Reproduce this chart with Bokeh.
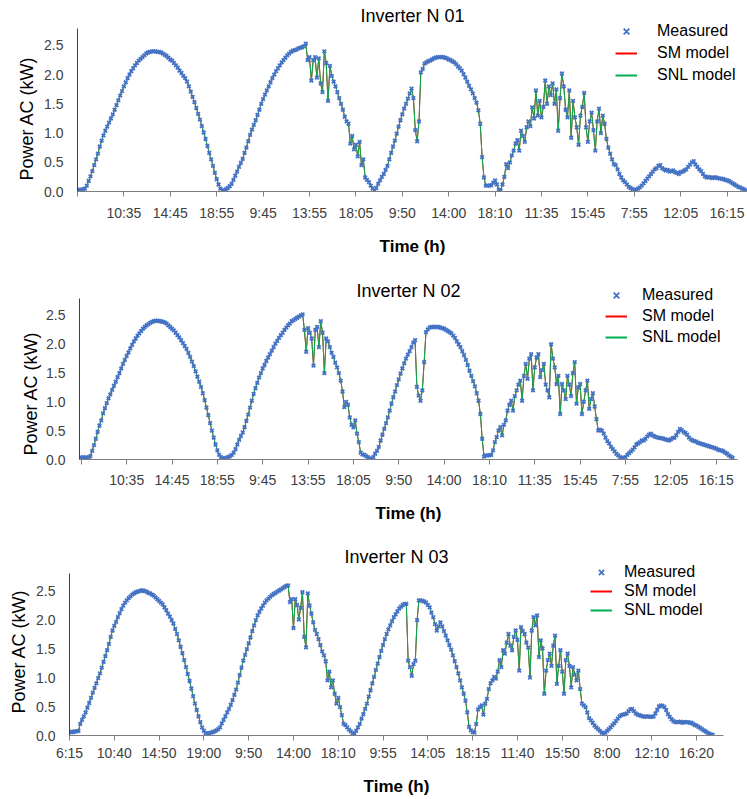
from bokeh.plotting import figure
from bokeh.models import (Range1d, FixedTicker, PrintfTickFormatter, Legend, LegendItem,
                          Label, Title)
from bokeh.embed import file_html
from bokeh.resources import INLINE

# one value for every 2nd 5-minute record (index = record number)
SAMPLE_STEP = 2

measured_n01 = [
    0.03, 0.02, 0.03, 0.04, 0.05, 0.10, 0.18, 0.26, 0.35, 0.45, 0.55, 0.65, 0.77, 0.87, 0.96, 1.04,
    1.11, 1.18, 1.25, 1.32, 1.40, 1.48, 1.56, 1.64, 1.72, 1.80, 1.87, 1.94, 2.00, 2.06, 2.11, 2.16,
    2.20, 2.24, 2.27, 2.30, 2.33, 2.36, 2.38, 2.39, 2.40, 2.40, 2.40, 2.39, 2.39, 2.38, 2.36, 2.34,
    2.32, 2.29, 2.26, 2.24, 2.20, 2.16, 2.12, 2.07, 2.03, 1.98, 1.94, 1.88, 1.80, 1.71, 1.62, 1.53,
    1.43, 1.33, 1.23, 1.12, 1.01, 0.90, 0.78, 0.66, 0.55, 0.44, 0.32, 0.21, 0.12, 0.05, 0.02,
    0.02, 0.04, 0.06, 0.09, 0.13, 0.20, 0.27, 0.34, 0.42, 0.49, 0.56, 0.66, 0.75, 0.86, 0.97, 1.06,
    1.14, 1.22, 1.31, 1.40, 1.50, 1.58, 1.66, 1.73, 1.80, 1.87, 1.94, 2.00, 2.06, 2.11, 2.16, 2.21,
    2.25, 2.29, 2.33, 2.36, 2.39, 2.41, 2.42, 2.43, 2.45, 2.46, 2.47, 2.49, 2.53, 2.25, 2.30, 1.90,
    2.25, 2.30, 1.95, 2.28, 1.85, 1.70, 2.40, 2.20, 1.55, 2.15, 1.98, 1.88, 1.80, 1.70, 1.60, 1.50,
    1.40, 1.28, 1.20, 1.16, 0.82, 0.95, 0.72, 0.80, 0.60, 0.85, 0.45, 0.55, 0.24, 0.20, 0.16, 0.10,
    0.05, 0.01,
    0.06, 0.13, 0.19, 0.25, 0.30, 0.37, 0.44, 0.55, 0.66, 0.77, 0.87, 0.99, 1.11, 1.22, 1.32, 1.42,
    1.50, 1.59, 1.68, 1.76, 1.60, 1.05, 0.86, 1.20, 2.04, 2.10, 2.19, 2.21, 2.23, 2.24, 2.26, 2.28,
    2.29, 2.30, 2.30, 2.30, 2.30, 2.29, 2.28, 2.26, 2.25, 2.23, 2.21, 2.18, 2.14, 2.11, 2.07, 2.01,
    1.95, 1.88, 1.81, 1.75, 1.68, 1.60, 1.52, 1.39, 1.16, 0.59, 0.24, 0.10, 0.10, 0.10, 0.11, 0.15,
    0.19, 0.12, 0.03, 0.02,
    0.12, 0.25, 0.47, 0.40, 0.50, 0.62, 0.70, 0.82, 0.88, 0.70, 1.04, 0.95, 0.85, 1.10, 1.20, 1.12,
    1.44, 1.25, 1.73, 1.30, 1.55, 1.27, 1.45, 1.90, 1.50, 1.80, 1.65, 1.85, 1.50, 1.75, 1.04, 1.60,
    2.02, 1.80, 1.40, 1.27, 1.73, 0.92, 1.55, 1.27, 1.10, 0.80, 1.30, 1.45, 1.69, 1.10, 0.85, 1.20,
    1.35, 1.05, 0.70, 1.20, 1.42, 1.00, 1.30, 1.16, 0.90, 0.75, 0.65, 0.55, 0.47, 0.45, 0.38, 0.30,
    0.24, 0.19, 0.16, 0.12, 0.08, 0.06, 0.04, 0.02,
    0.03, 0.05, 0.07, 0.10, 0.14, 0.18, 0.22, 0.26, 0.30, 0.34, 0.38, 0.40, 0.44, 0.45, 0.40, 0.38,
    0.36, 0.37, 0.34, 0.35, 0.36, 0.33, 0.32, 0.30, 0.33, 0.34, 0.36, 0.38, 0.42, 0.46, 0.50, 0.52,
    0.46, 0.42, 0.38, 0.35, 0.30, 0.26, 0.24, 0.25, 0.24, 0.23, 0.24, 0.24, 0.23, 0.22, 0.22, 0.21,
    0.20, 0.19, 0.18, 0.16, 0.14, 0.12, 0.10, 0.08, 0.07, 0.05, 0.04, 0.02,
]

measured_n02 = [
    0.03, 0.04, 0.03, 0.03, 0.04, 0.06, 0.15, 0.25, 0.36, 0.48, 0.59, 0.68, 0.80, 0.89, 0.98, 1.06,
    1.13, 1.21, 1.28, 1.35, 1.43, 1.50, 1.58, 1.66, 1.73, 1.80, 1.86, 1.93, 1.99, 2.05, 2.10, 2.15,
    2.19, 2.23, 2.27, 2.30, 2.33, 2.35, 2.37, 2.39, 2.40, 2.41, 2.41, 2.40, 2.40, 2.39, 2.38, 2.36,
    2.33, 2.30, 2.27, 2.24, 2.20, 2.16, 2.12, 2.07, 2.02, 1.97, 1.92, 1.85, 1.78, 1.70, 1.62, 1.53,
    1.44, 1.35, 1.26, 1.15, 1.03, 0.90, 0.77, 0.63, 0.50, 0.38, 0.26, 0.16, 0.08, 0.04, 0.02,
    0.02, 0.03, 0.04, 0.06, 0.08, 0.12, 0.18, 0.26, 0.34, 0.41, 0.47, 0.56, 0.67, 0.78, 0.90, 1.02,
    1.14, 1.24, 1.33, 1.42, 1.50, 1.58, 1.64, 1.71, 1.77, 1.83, 1.89, 1.95, 2.01, 2.06, 2.11, 2.16,
    2.20, 2.25, 2.29, 2.33, 2.36, 2.40, 2.42, 2.44, 2.46, 2.48, 2.50, 2.52, 2.25, 1.87, 2.28, 2.20,
    2.10, 1.63, 2.25, 2.30, 1.95, 2.40, 2.20, 1.50, 2.10, 2.05, 1.95, 1.85, 1.78, 1.68, 1.60, 1.50,
    1.37, 1.18, 0.91, 1.00, 0.95, 0.73, 0.60, 0.56, 0.68, 0.45, 0.30, 0.12, 0.09, 0.08, 0.06, 0.04,
    0.02, 0.01,
    0.04, 0.10, 0.15, 0.22, 0.33, 0.43, 0.53, 0.63, 0.73, 0.85, 0.97, 1.08, 1.18, 1.29, 1.39, 1.49,
    1.58, 1.67, 1.75, 1.82, 1.88, 1.95, 2.03, 2.07, 1.26, 1.11, 1.02, 1.20, 1.69, 2.21, 2.26, 2.29,
    2.30, 2.30, 2.30, 2.30, 2.30, 2.29, 2.28, 2.27, 2.25, 2.23, 2.21, 2.19, 2.15, 2.11, 2.05, 2.00,
    1.95, 1.88, 1.81, 1.73, 1.64, 1.54, 1.45, 1.36, 1.27, 1.15, 1.02, 0.79, 0.36, 0.05, 0.07, 0.07,
    0.07, 0.08, 0.16, 0.30,
    0.39, 0.50, 0.56, 0.42, 0.60, 0.68, 0.85, 0.95, 1.02, 0.85, 1.10, 1.20, 1.30, 1.37, 1.02, 1.45,
    1.66, 1.40, 1.75, 1.83, 1.20, 1.60, 1.77, 1.83, 1.43, 1.55, 1.66, 1.30, 1.20, 1.08, 2.00, 1.75,
    1.60, 1.31, 1.45, 0.79, 1.31, 1.20, 1.05, 1.45, 1.30, 1.10, 1.50, 1.69, 0.97, 1.25, 1.31, 0.79,
    1.00, 1.20, 1.37, 0.88, 1.05, 1.15, 0.92, 0.70, 0.50, 0.52, 0.50, 0.45, 0.38, 0.32, 0.28, 0.22,
    0.18, 0.14, 0.10, 0.07, 0.04, 0.03, 0.02, 0.04,
    0.08, 0.11, 0.14, 0.17, 0.21, 0.26, 0.28, 0.30, 0.33, 0.33, 0.36, 0.40, 0.43, 0.45, 0.42, 0.40,
    0.39, 0.38, 0.37, 0.37, 0.36, 0.35, 0.34, 0.33, 0.35, 0.37, 0.38, 0.42, 0.48, 0.53, 0.51, 0.48,
    0.46, 0.43, 0.38, 0.35, 0.33, 0.32, 0.31, 0.29, 0.28, 0.27, 0.26, 0.25, 0.24, 0.23, 0.22, 0.21,
    0.20, 0.19, 0.17, 0.16, 0.16, 0.14, 0.12, 0.10, 0.07, 0.05, 0.03,
]

measured_n03 = [
    0.06, 0.06, 0.06, 0.07, 0.07, 0.08, 0.20, 0.27, 0.33, 0.40, 0.48, 0.56, 0.65, 0.74, 0.82, 0.90,
    0.99, 1.07, 1.17, 1.27, 1.37, 1.47, 1.58, 1.70, 1.81, 1.89, 1.96, 2.04, 2.11, 2.18, 2.24, 2.29,
    2.33, 2.37, 2.40, 2.43, 2.45, 2.47, 2.48, 2.49, 2.50, 2.50, 2.49, 2.48, 2.46, 2.45, 2.43, 2.41,
    2.38, 2.35, 2.32, 2.29, 2.26, 2.21, 2.16, 2.10, 2.05, 1.99, 1.93, 1.84, 1.75, 1.64, 1.53, 1.42,
    1.30, 1.18, 1.06, 0.94, 0.81, 0.68, 0.55, 0.44, 0.33, 0.23, 0.14, 0.08, 0.04, 0.03, 0.04,
    0.05, 0.06, 0.07, 0.09, 0.11, 0.14, 0.21, 0.27, 0.33, 0.40, 0.46, 0.53, 0.61, 0.70, 0.79, 0.91,
    1.04, 1.17, 1.29, 1.39, 1.49, 1.59, 1.69, 1.80, 1.90, 1.99, 2.07, 2.13, 2.19, 2.24, 2.29, 2.33,
    2.36, 2.39, 2.42, 2.44, 2.46, 2.48, 2.50, 2.52, 2.54, 2.56, 2.58, 2.59, 2.30, 2.35, 1.85, 2.35,
    2.25, 2.00, 2.20, 2.47, 1.70, 1.52, 2.45, 2.24, 2.10, 1.95, 1.82, 1.75, 1.66, 1.56, 1.45, 1.38,
    1.28, 0.95, 1.10, 0.83, 0.95, 0.72, 0.55, 0.65, 0.49, 0.35, 0.20, 0.18, 0.14, 0.10, 0.07, 0.04,
    0.03, 0.08,
    0.14, 0.20, 0.29, 0.37, 0.46, 0.55, 0.67, 0.78, 0.90, 1.01, 1.13, 1.24, 1.35, 1.46, 1.56, 1.66,
    1.75, 1.83, 1.90, 1.97, 2.04, 2.09, 2.14, 2.19, 2.22, 2.25, 2.27, 2.27, 1.29, 1.18, 1.03, 1.23,
    1.29, 1.99, 2.33, 2.33, 2.32, 2.31, 2.29, 2.25, 2.21, 2.12, 2.04, 1.92, 1.81, 1.88, 1.95, 1.88,
    1.80, 1.72, 1.64, 1.56, 1.48, 1.38, 1.28, 1.18, 1.07, 0.95, 0.83, 0.72, 0.60, 0.40, 0.15, 0.09,
    0.06, 0.05,
    0.20, 0.45, 0.49, 0.52, 0.36, 0.55, 0.63, 0.80, 0.90, 0.95, 1.01, 0.98, 1.10, 1.30, 1.18, 1.47,
    1.41, 1.60, 1.75, 1.55, 1.47, 1.70, 1.81, 1.65, 1.12, 1.87, 1.80, 1.75, 1.60, 1.52, 1.00, 1.81,
    2.04, 1.90, 2.07, 1.35, 1.64, 1.50, 0.72, 1.12, 1.30, 1.41, 1.20, 1.55, 1.72, 0.89, 1.20, 1.47,
    1.10, 0.72, 1.30, 1.41, 1.20, 0.83, 1.18, 1.05, 0.95, 1.12, 0.80, 0.55, 0.52, 0.49, 0.40, 0.30,
    0.26, 0.22, 0.17, 0.14, 0.11, 0.08, 0.05, 0.03, 0.05,
    0.08, 0.11, 0.14, 0.18, 0.21, 0.25, 0.29, 0.33, 0.35, 0.36, 0.37, 0.38, 0.42, 0.45, 0.46, 0.42,
    0.38, 0.36, 0.35, 0.34, 0.33, 0.32, 0.33, 0.33, 0.32, 0.32, 0.33, 0.38, 0.44, 0.50, 0.52, 0.51,
    0.49, 0.44, 0.37, 0.32, 0.28, 0.25, 0.23, 0.23, 0.23, 0.24, 0.22, 0.23, 0.23, 0.23, 0.22, 0.22,
    0.20, 0.18, 0.17, 0.15, 0.13, 0.11, 0.09, 0.07, 0.05, 0.03, 0.02, 0.01,
]

# model outputs coincide with the measurement at this scale
sm_model_n01 = measured_n01
snl_model_n01 = measured_n01
sm_model_n02 = measured_n02
snl_model_n02 = measured_n02
sm_model_n03 = measured_n03
snl_model_n03 = measured_n03

tick_records = [0, 50, 100, 150, 200, 250, 300, 350, 400, 450, 500, 550, 600, 650, 700]
tick_labels_n01 = ["", "10:35", "14:45", "18:55", "9:45", "13:55", "18:05", "9:50",
                   "14:00", "18:10", "11:35", "15:45", "7:55", "12:05", "16:15"]
tick_labels_n02 = ["", "10:35", "14:45", "18:55", "9:45", "13:55", "18:05", "9:50",
                   "14:00", "18:10", "11:35", "15:45", "7:55", "12:05", "16:15"]
tick_labels_n03 = ["6:15", "10:40", "14:50", "19:00", "9:50", "14:00", "18:10", "9:55",
                   "14:05", "18:15", "11:40", "15:50", "8:00", "12:10", "16:20"]

titles = ["Inverter N 01", "Inverter N 02", "Inverter N 03"]
y_axis_max = 2.79

FONT = "Liberation Sans"
BLUE = "#4472C4"
RED = "#FF0000"
GREEN = "#00B050"


def make_panel(title, measured, sm, snl, labels, height, left, right, bottom,
               xr, ytop, title_y, label_standoff, axis_label_standoff,
               ylab_offset, ylab_standoff, legend_loc, legend_row, legend_spacing,
               legend_standoff):
    x = [i * SAMPLE_STEP for i in range(len(measured))]
    p = figure(width=747, height=height, output_backend="svg", toolbar_location=None,
               x_range=Range1d(xr[0], xr[1]), y_range=Range1d(0, ytop),
               min_border_left=left, min_border_right=right,
               min_border_top=0, min_border_bottom=bottom)
    p.title_location = None
    p.outline_line_color = None
    p.xgrid.visible = False
    p.ygrid.visible = False
    p.background_fill_color = "white"
    p.border_fill_color = "white"

    p.line(x, sm, line_color=RED, line_width=1)
    p.line(x, snl, line_color=GREEN, line_width=1)
    r_meas = p.scatter(x, measured, marker="x", size=5, line_color=BLUE, line_width=1.8)

    # legend swatches: thicker copies of the model lines, hidden in the plot area
    key_sm = p.line(x, sm, line_color=RED, line_width=2, visible=False)
    key_snl = p.line(x, snl, line_color=GREEN, line_width=2, visible=False)

    p.add_layout(Label(x=(xr[0] + xr[1]) / 2, y=title_y, text=title, text_align="center",
                       text_baseline="middle", text_font=FONT, text_font_size="18px",
                       text_color="black"))

    xa = p.xaxis[0]
    xa.ticker = FixedTicker(ticks=tick_records)
    xa.major_label_overrides = {t: l for t, l in zip(tick_records, labels)}
    xa.major_tick_out = 5
    xa.major_tick_in = 0
    xa.minor_tick_out = 0
    xa.minor_tick_in = 0
    xa.axis_line_color = "#7f7f7f"
    xa.major_tick_line_color = "#7f7f7f"
    xa.major_label_text_font = FONT
    xa.major_label_text_font_size = "14px"
    xa.major_label_text_color = "#404040"
    xa.major_label_standoff = label_standoff
    xa.axis_label = "Time (h)"
    xa.axis_label_text_font = FONT
    xa.axis_label_text_font_size = "17px"
    xa.axis_label_text_font_style = "bold"
    xa.axis_label_text_color = "black"
    xa.axis_label_standoff = axis_label_standoff

    ya = p.yaxis[0]
    ya.bounds = (0, y_axis_max)
    ya.ticker = FixedTicker(ticks=[0, 0.5, 1.0, 1.5, 2.0, 2.5])
    ya.formatter = PrintfTickFormatter(format="%.1f")
    ya.major_tick_out = 0
    ya.major_tick_in = 0
    ya.minor_tick_out = 0
    ya.minor_tick_in = 0
    ya.axis_line_color = "#404040"
    ya.major_label_text_font = FONT
    ya.major_label_text_font_size = "14px"
    ya.major_label_text_color = "#404040"
    ya.major_label_standoff = 14

    p.add_layout(Title(text="Power AC (kW)", align="left", offset=ylab_offset,
                       standoff=ylab_standoff, text_font=FONT, text_font_size="18px",
                       text_font_style="normal", text_color="black"), "left")

    legend = Legend(items=[LegendItem(label="Measured", renderers=[r_meas]),
                           LegendItem(label="SM model", renderers=[key_sm]),
                           LegendItem(label="SNL model", renderers=[key_snl])],
                    location=legend_loc)
    legend.background_fill_alpha = 0
    legend.border_line_color = None
    legend.padding = 0
    legend.margin = 0
    legend.spacing = legend_spacing
    legend.glyph_width = 22
    legend.glyph_height = legend_row
    legend.label_height = legend_row
    legend.label_standoff = legend_standoff
    legend.label_text_font = FONT
    legend.label_text_font_size = "16px"
    legend.label_text_color = "black"
    p.add_layout(legend)
    return p


p1 = make_panel(titles[0], measured_n01, sm_model_n01, snl_model_n01, tick_labels_n01,
                height=266, left=77, right=0, bottom=75, xr=(0, 722), ytop=3.27, title_y=3.0,
                label_standoff=8, axis_label_standoff=13, ylab_offset=11, ylab_standoff=9,
                legend_loc=(538, 106), legend_row=20, legend_spacing=2, legend_standoff=20)
p2 = make_panel(titles[1], measured_n02, sm_model_n02, snl_model_n02, tick_labels_n02,
                height=266, left=79, right=10, bottom=73, xr=(-2, 723.5), ytop=3.35, title_y=2.93,
                label_standoff=7, axis_label_standoff=13, ylab_offset=4, ylab_standoff=5,
                legend_loc=(526, 112), legend_row=20, legend_spacing=1, legend_standoff=15)
p3 = make_panel(titles[2], measured_n03, sm_model_n03, snl_model_n03, tick_labels_n03,
                height=267, left=69, right=24, bottom=64, xr=(0, 730), ytop=3.50, title_y=3.07,
                label_standoff=4, axis_label_standoff=13, ylab_offset=22, ylab_standoff=9,
                legend_loc=(521, 116), legend_row=18, legend_spacing=1, legend_standoff=12)

with open("out.html", "w") as f:
    f.write(file_html([p1, p2, p3], INLINE))
